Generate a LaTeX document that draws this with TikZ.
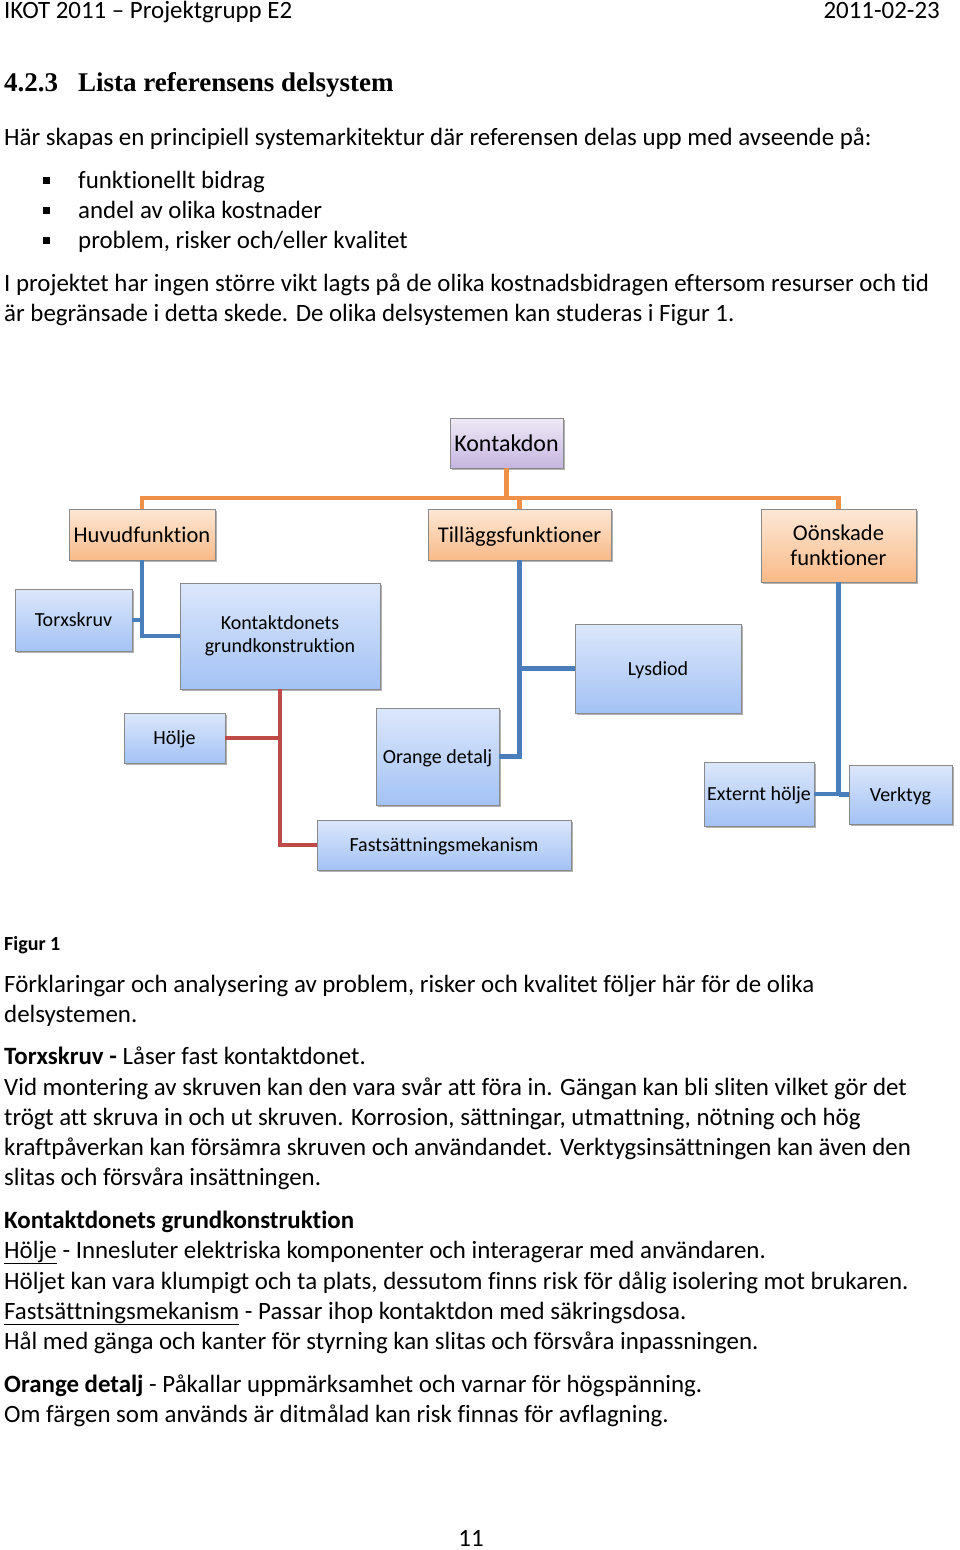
\documentclass[tikz,border=0pt]{standalone}
\usepackage{fontspec}
\setmainfont{Carlito}[Ligatures=NoCommon]
\newfontfamily\headfont{Liberation Serif}
\usetikzlibrary{shadows}
\definecolor{blueT}{HTML}{DCE7FB}
\definecolor{blueB}{HTML}{A3C2F5}
\definecolor{orT}{HTML}{FDE8D6}
\definecolor{orB}{HTML}{F9BA88}
\definecolor{puT}{HTML}{EFE9F7}
\definecolor{puB}{HTML}{C6B6E0}
\definecolor{lineO}{HTML}{F0914A}
\definecolor{lineB}{HTML}{4A7EBB}
\definecolor{lineR}{HTML}{BE4B48}
\definecolor{boxline}{HTML}{8A8A8A}
\tikzset{
  box/.style={draw=boxline, line width=0.8pt, align=center, inner sep=2pt,
    drop shadow={shadow xshift=2pt, shadow yshift=-2pt, opacity=0.3, fill=black}},
  bluebox/.style={box, top color=blueT, bottom color=blueB, font=\fontsize{20}{23}\selectfont},
  orbox/.style={box, top color=orT, bottom color=orB, font=\fontsize{22.5}{25}\selectfont},
  pubox/.style={box, top color=puT, bottom color=puB, font=\fontsize{24}{28}\selectfont},
  oneB/.style={text height=13.8pt, text depth=0pt},
  oneO/.style={text height=15.5pt, text depth=0pt},
  oneP/.style={text height=16.5pt, text depth=0pt},
  conO/.style={draw=lineO, line width=4.5pt},
  conB/.style={draw=lineB, line width=4.5pt},
  conR/.style={draw=lineR, line width=4.5pt},
  txt/.style={anchor=base west, inner sep=0pt, font=\fontsize{24.9}{30}\selectfont},
  bul/.style={fill=black, minimum size=7pt, inner sep=0pt},
}
\begin{document}
\begin{tikzpicture}[x=1pt,y=-1pt]
\fill[white] (0,0) rectangle (960,1550);
\useasboundingbox (0,0) rectangle (960,1550);

% header
\node[txt] (hdrL) at (4,18) {IKOT 2011 – Projektgrupp E2};
\node[txt, anchor=base east] (hdrR) at (940,18) {2011-02-23};
% heading
\node[txt, font=\headfont\bfseries\fontsize{27}{31}\selectfont] (hnum) at (4,91) {4.2.3};
\node[txt, font=\headfont\bfseries\fontsize{27}{31}\selectfont] (htit) at (78,91) {Lista referensens delsystem};

\node[txt] (p1) at (4,145) {Här skapas en principiell systemarkitektur där referensen delas upp med avseende på:};
\node[bul] (b1) at (46,180) {};
\node[bul] (b2) at (46,210) {};
\node[bul] (b3) at (46,240) {};
\node[txt] (l1) at (78,188) {funktionellt bidrag};
\node[txt] (l2) at (78,218) {andel av olika kostnader};
\node[txt] (l3) at (78,248) {problem, risker och/eller kvalitet};
\node[txt] (p2) at (4,291) {I projektet har ingen större vikt lagts på de olika kostnadsbidragen eftersom resurser och tid};
\node[txt] (p3) at (4,321) {är begränsade i detta skede. De olika delsystemen kan studeras i Figur 1.};

% diagram boxes
\node[pubox, oneP, minimum width=113pt, minimum height=50pt] (kon) at (506.5,443) {Kontakdon};
\node[orbox, oneO, minimum width=146pt, minimum height=51pt] (huv) at (142,534.5) {Huvudfunktion};
\node[orbox, oneO, minimum width=183pt, minimum height=51pt] (til) at (519.5,534.5) {Tilläggsfunktioner};
\node[orbox, minimum width=155pt, minimum height=73pt] (oon) at (838.5,545.5) {Oönskade\\funktioner};
\node[bluebox, oneB, minimum width=117pt, minimum height=62pt] (torx) at (73.5,620) {Torxskruv};
\node[bluebox, minimum width=200pt, minimum height=106pt] (grund) at (280,636) {Kontaktdonets\\grundkonstruktion};
\node[bluebox, oneB, minimum width=166pt, minimum height=89pt] (lys) at (658,668.5) {Lysdiod};
\node[bluebox, oneB, minimum width=101pt, minimum height=50pt] (holje) at (174.5,738) {Hölje};
\node[bluebox, oneB, minimum width=123pt, minimum height=97pt] (orng) at (437.5,756.5) {Orange detalj};
\node[bluebox, oneB, minimum width=254pt, minimum height=50pt] (fast) at (444,845) {Fastsättningsmekanism};
\node[bluebox, oneB, minimum width=110pt, minimum height=64pt] (ext) at (759,794) {Externt hölje};
\node[bluebox, oneB, minimum width=103pt, minimum height=59pt] (verk) at (900.5,794.5) {Verktyg};

% connectors
\coordinate (bus) at (142,498);
\draw[conO] (kon.south) -- (kon.south |- bus);
\draw[conO] (huv.north) -- (huv.north |- bus) -| (oon.north);
\draw[conO] (til.north) -- (til.north |- bus);

\draw[conB] (huv.south) -- (huv.south |- grund.west) -- (grund.west);
\draw[conB] (torx.east) -- (torx.east -| huv.south);
\draw[conB] (til.south) -- (til.south |- orng.east) -- (orng.east);
\draw[conB] (lys.west) -- (lys.west -| til.south);
\draw[conB] (oon.south) -- (oon.south |- ext.east) -- (ext.east);
\draw[conB] (verk.west) -- (verk.west -| oon.south);
\draw[conR] (grund.south) -- (grund.south |- fast.west) -- (fast.west);
\draw[conR] (holje.east) -- (holje.east -| grund.south);

% text below
\node[txt, font=\bfseries\fontsize{20}{24}\selectfont] (fig) at (4,950) {Figur 1};
\node[txt] (q1) at (4,992) {Förklaringar och analysering av problem, risker och kvalitet följer här för de olika};
\node[txt] (q2) at (4,1022) {delsystemen.};
\node[txt] (q3) at (4,1064) {\textbf{Torxskruv -} Låser fast kontaktdonet.};
\node[txt] (q4) at (4,1095) {Vid montering av skruven kan den vara svår att föra in. Gängan kan bli sliten vilket gör det};
\node[txt] (q5) at (4,1125) {trögt att skruva in och ut skruven. Korrosion, sättningar, utmattning, nötning och hög};
\node[txt] (q6) at (4,1155) {kraftpåverkan kan försämra skruven och användandet. Verktygsinsättningen kan även den};
\node[txt] (q7) at (4,1185) {slitas och försvåra insättningen.};
\node[txt] (q8) at (4,1228) {\textbf{Kontaktdonets grundkonstruktion}};
\node[txt] (q9) at (4,1258) {\underline{Hölje} - Innesluter elektriska komponenter och interagerar med användaren.};
\node[txt] (q10) at (4,1289) {Höljet kan vara klumpigt och ta plats, dessutom finns risk för dålig isolering mot brukaren.};
\node[txt] (q11) at (4,1319) {\underline{Fastsättningsmekanism} - Passar ihop kontaktdon med säkringsdosa.};
\node[txt] (q12) at (4,1349) {Hål med gänga och kanter för styrning kan slitas och försvåra inpassningen.};
\node[txt] (q13) at (4,1392) {\textbf{Orange detalj} - Påkallar uppmärksamhet och varnar för högspänning.};
\node[txt] (q14) at (4,1422) {Om färgen som används är ditmålad kan risk finnas för avflagning.};
\node[txt, anchor=base] (pg) at (471,1546) {11};
\end{tikzpicture}
\end{document}
